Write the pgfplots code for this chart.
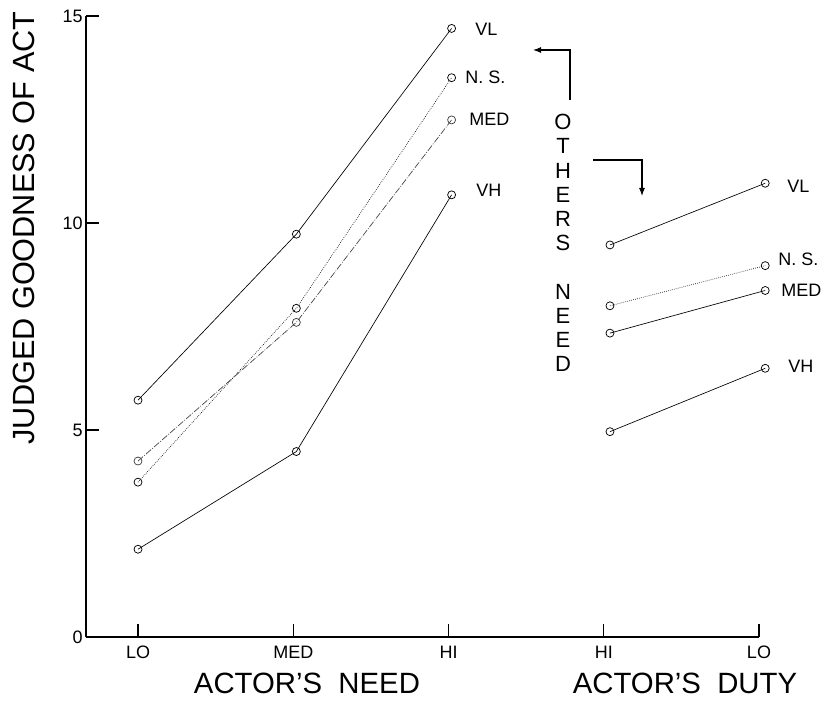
\documentclass[border=0pt]{standalone}
\usepackage{pgfplots}
\pgfplotsset{compat=1.18}
\usepackage{fontspec}
\setmainfont{Liberation Sans}
\usetikzlibrary{arrows.meta}
\begin{document}
\begin{tikzpicture}[pt/.style={black, line width=0.5pt, mark=o, mark size=3pt, mark options={solid, fill=white, line width=0.55pt}}]
\useasboundingbox (-64.5pt,-47.25pt) rectangle (551.25pt,477.75pt);
\begin{axis}[
  at={(0pt,0pt)}, anchor=south west,
  scale only axis, width=504.75pt, height=465.75pt,
  xmin=-0.335, xmax=4, ymin=0, ymax=15,
  axis x line=bottom, axis y line=left,
  axis line style={-, line width=0.9pt},
  tick align=inside, major tick length=9.5pt,
  tick style={line width=0.8pt, black},
  xtick={0,1,2,3,4}, xticklabels={LO,MED,HI,HI,LO},
  ytick={0,5,10,15},
  ticklabel style={font=\fontsize{13.5}{15}\selectfont},
  xticklabel style={yshift=-3pt},
  yticklabel style={xshift=1pt},
  /pgf/number format/assume math mode=true,
  clip=false,
]
% Actor's need panel
\addplot[pt] coordinates {(0,5.72) (1.02,9.73) (2.02,14.70)};            % VL
\addplot[pt, densely dotted] coordinates {(0,3.74) (1.02,7.94) (2.02,13.51)}; % N.S.
\addplot[pt, black!75, dash pattern=on 5pt off 1.2pt on 0.6pt off 1.2pt] coordinates {(0,4.25) (1.02,7.60) (2.02,12.49)}; % MED
\addplot[pt] coordinates {(0,2.12) (1.02,4.48) (2.02,10.68)};            % VH
% Actor's duty panel
\addplot[pt] coordinates {(3.04,9.47) (4.04,10.96)};                     % VL
\addplot[pt, densely dotted] coordinates {(3.04,8.00) (4.04,8.97)};      % N.S.
\addplot[pt] coordinates {(3.04,7.34) (4.04,8.37)};                      % MED
\addplot[pt] coordinates {(3.04,4.96) (4.04,6.49)};                      % VH
\end{axis}
\begin{scope}[x=0.75pt, y=-0.75pt, shift={(-64.5pt,477.75pt)}]
  \node[rotate=90, font=\fontsize{23}{26}\selectfont] at (24,228) {JUDGED GOODNESS OF ACT};
  \node[font=\fontsize{22}{25}\selectfont] at (307,683) {ACTOR'S\ \ NEED};
  \node[font=\fontsize{22}{25}\selectfont] at (685,683) {ACTOR'S\ \ DUTY};
  \begin{scope}[every node/.style={font=\fontsize{13.5}{15}\selectfont, anchor=west, inner sep=0pt}]
    \node at (475,29) {VL};
    \node at (465,77) {N. S.};
    \node at (469,119) {MED};
    \node at (476,190) {VH};
    \node at (787,186) {VL};
    \node at (778,259) {N. S.};
    \node at (781,290) {MED};
    \node at (788,366) {VH};
  \end{scope}
  \node[align=center, font=\fontsize{16.5}{18.15}\selectfont, inner sep=0pt] at (563,243) {O\\T\\H\\E\\R\\S\\~\\N\\E\\E\\D};
  \draw[line width=0.8pt, -{Latex[length=6pt,width=4.5pt]}] (570,100) -- (570,50) -- (533,50);
  \draw[line width=0.8pt, -{Latex[length=6pt,width=4.5pt]}] (593,160) -- (642,160) -- (642,196);
\end{scope}
\end{tikzpicture}
\end{document}
